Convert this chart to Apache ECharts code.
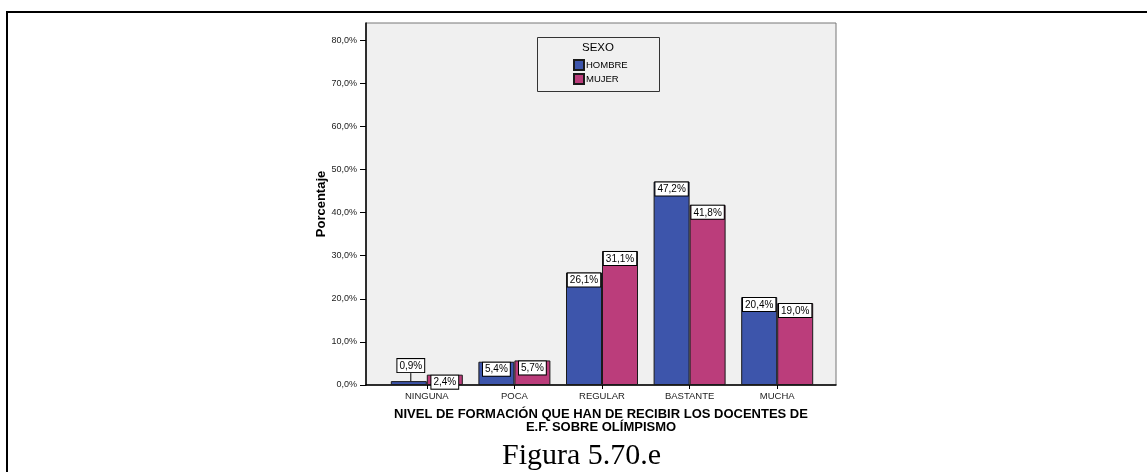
<!DOCTYPE html>
<html>
<head>
<meta charset="utf-8">
<script src="https://cdn.jsdelivr.net/npm/echarts@6/dist/echarts.min.js"></script>
<style>
html,body{margin:0;padding:0;background:#fff;}
#c{width:1147px;height:472px;}
</style>
</head>
<body>
<div id="c"></div>
<script>
const categories = ['NINGUNA', 'POCA', 'REGULAR', 'BASTANTE', 'MUCHA'];
const hombre = [0.9, 5.4, 26.1, 47.2, 20.4];
const mujer = [2.4, 5.7, 31.1, 41.8, 19.0];
const yTicks = [0, 10, 20, 30, 40, 50, 60, 70, 80];
const seriesNames = ['HOMBRE', 'MUJER'];
const legendTitle = 'SEXO';
const yName = 'Porcentaje';
const xName = 'NIVEL DE FORMACIÓN QUE HAN DE RECIBIR LOS DOCENTES DE\nE.F. SOBRE OLÍMPISMO';
const caption = 'Figura 5.70.e';

const SANS = "'Liberation Sans', Arial, sans-serif";
const fmt = v => v.toFixed(1).replace('.', ',') + '%';
const YMAX = 84;

const labelBase = {
  show: true,
  position: 'insideTop',
  distance: 1,
  formatter: p => fmt(p.value),
  fontFamily: SANS,
  fontSize: 10,
  color: '#000',
  backgroundColor: '#fff',
  borderColor: '#000',
  borderWidth: 1,
  padding: [2, 2, 1, 2],
  lineHeight: 10
};

const chart = echarts.init(document.getElementById('c'), null, {renderer: 'canvas'});
chart.setOption({
  animation: false,
  backgroundColor: '#fff',
  title: {
    text: caption,
    left: 502,
    top: 441,
    padding: 0,
    textStyle: {fontFamily: "'Liberation Serif', 'DejaVu Serif', serif", fontSize: 30, fontWeight: 'normal', color: '#000'}
  },
  graphic: [
    {type: 'line', z: 100, shape: {x1: 7, y1: 12, x2: 7, y2: 472}, style: {stroke: '#000', lineWidth: 2}},
    {type: 'line', z: 100, shape: {x1: 6, y1: 12, x2: 1147, y2: 12}, style: {stroke: '#000', lineWidth: 2}},
    {type: 'rect', z: 50, shape: {x: 537.5, y: 37.5, width: 122, height: 54}, style: {fill: '#f0f0f0', stroke: '#333', lineWidth: 1}},
    {type: 'text', z: 60, x: 598, y: 48, style: {text: legendTitle, fontFamily: SANS, fontSize: 11.5, fill: '#000', textAlign: 'center', textVerticalAlign: 'middle'}}
  ],
  legend: {
    z: 70,
    orient: 'vertical',
    left: 573,
    top: 59,
    padding: 0,
    itemWidth: 10,
    itemHeight: 10,
    itemGap: 2,
    icon: 'rect',
    data: seriesNames,
    textStyle: {fontFamily: SANS, fontSize: 9.5, color: '#000', lineHeight: 10, padding: [0, 0, 0, -3]}
  },
  grid: [
    {left: 366, right: 311, top: 23, bottom: 87, show: true, backgroundColor: '#f0f0f0', borderColor: '#777', borderWidth: 1},
    {left: 383, right: 326, top: 23, bottom: 87}
  ],
  xAxis: [
    {
      type: 'value', gridIndex: 0, min: 0, max: 1,
      axisLine: {show: true, lineStyle: {color: '#000', width: 1.5}},
      axisTick: {show: false}, axisLabel: {show: false}, splitLine: {show: false},
      name: xName, nameLocation: 'middle', nameGap: 23,
      nameTextStyle: {fontFamily: SANS, fontSize: 13, fontWeight: 'bold', color: '#000', lineHeight: 13}
    },
    {
      type: 'category', gridIndex: 1, data: categories,
      axisLine: {show: false},
      axisTick: {show: true, alignWithLabel: true, length: 4, lineStyle: {color: '#000'}},
      axisLabel: {fontFamily: SANS, fontSize: 9.5, color: '#222', margin: 6},
      splitLine: {show: false}
    }
  ],
  yAxis: [
    {
      type: 'value', gridIndex: 0, min: 0, max: YMAX,
      axisLine: {show: true, lineStyle: {color: '#000', width: 1.5}},
      axisTick: {show: true, length: 6, customValues: yTicks, lineStyle: {color: '#000'}},
      axisLabel: {customValues: yTicks, formatter: v => fmt(v), fontFamily: SANS, fontSize: 9, color: '#222', margin: 9},
      splitLine: {show: false},
      name: yName, nameLocation: 'middle', nameGap: 36,
      nameTextStyle: {fontFamily: SANS, fontSize: 13, fontWeight: 'bold', color: '#000'}
    },
    {type: 'value', gridIndex: 1, min: 0, max: YMAX, show: false, splitLine: {show: false}}
  ],
  series: [
    {
      name: seriesNames[0], type: 'bar', xAxisIndex: 1, yAxisIndex: 1,
      barWidth: 36, barGap: '0%',
      itemStyle: {color: '#3d55ab', borderColor: '#1a1a1a', borderWidth: 1},
      data: hombre.map((v, i) => i === 0 ? {value: v, label: {position: 'top', distance: 1}, labelLine: {show: true, lineStyle: {color: '#000', width: 1}}} : v),
      label: labelBase,
      labelLayout: p => p.dataIndex === 0 ? {dy: -8, dx: 2} : {}
    },
    {
      name: seriesNames[1], type: 'bar', xAxisIndex: 1, yAxisIndex: 1,
      barWidth: 36, barGap: '0%',
      itemStyle: {color: '#bb3d7b', borderColor: '#1a1a1a', borderWidth: 1},
      data: mujer,
      label: labelBase
    }
  ]
});
</script>
</body>
</html>
